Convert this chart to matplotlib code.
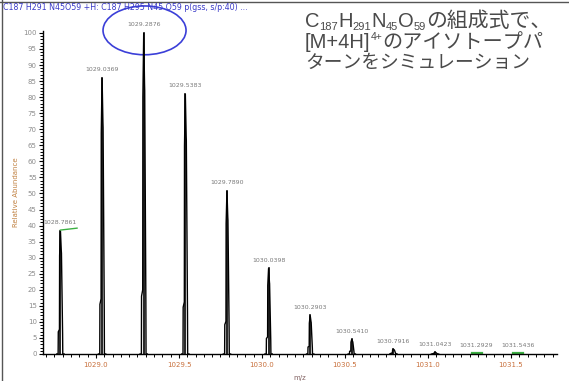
import numpy as np
import matplotlib.pyplot as plt
from matplotlib.patches import Ellipse
from matplotlib.lines import Line2D
from matplotlib.transforms import IdentityTransform
from matplotlib.ticker import MultipleLocator

# isotope peaks of [M+4H]4+ (centroid m/z, relative abundance)
peak_mz = [1028.7861, 1029.0369, 1029.2876, 1029.5383, 1029.7890, 1030.0398,
           1030.2903, 1030.5410, 1030.7916, 1031.0423, 1031.2929, 1031.5436]
peak_abund = [38.3, 86.0, 100.0, 81.0, 50.8, 26.7, 12.0, 4.6, 1.5, 0.5, 0.15, 0.05]
peak_labels = ["1028.7861", "1029.0369", "1029.2876", "1029.5383", "1029.7890",
               "1030.0398", "1030.2903", "1030.5410", "1030.7916", "1031.0423",
               "1031.2929", "1031.5436"]
marked_peaks = [10, 11]   # tiny peaks flagged in green

x_ticks = [1029.0, 1029.5, 1030.0, 1030.5, 1031.0, 1031.5]
y_ticks = list(range(0, 101, 5))

header = "C187 H291 N45O59 +H: C187 H295 N45 O59 p(gss, s/p:40) ..."

# profile shape used for every peak (m/z offset, fraction of height)
shape_dx = [-0.022, -0.014, -0.013, -0.006, -0.005, 0.0, 0.005, 0.006, 0.013, 0.014, 0.022]
shape_fr = [0.0, 0.0, 0.18, 0.2, 0.8, 1.0, 0.84, 0.82, 0.16, 0.0, 0.0]

W, H = 569, 381
fig = plt.figure(figsize=(W / 100, H / 100), dpi=100)
ax = fig.add_axes([43 / W, 27 / H, (557 - 43) / W, (354 - 31) / H])

for mz, ab in zip(peak_mz, peak_abund):
    xs = [mz + d for d in shape_dx]
    ys = [ab * f for f in shape_fr]
    ax.plot(xs, ys, color="black", lw=1.0, solid_joinstyle="miter")
    ax.plot([mz, mz], [0, ab], color="black", lw=1.2)

for lab, mz, ab in zip(peak_labels, peak_mz, peak_abund):
    ax.annotate(lab, (mz, ab), xytext=(0, 4), textcoords="offset points",
                ha="center", va="bottom", fontsize=4.5, color="#7a7a7a")

# green flags: underline on the first label and baseline marks on tiny peaks
ax.plot([peak_mz[0], peak_mz[0] + 0.1], [peak_abund[0] + 0.3, peak_abund[0] + 0.9],
        color="#3cb043", lw=1.0, clip_on=False)
for i in marked_peaks:
    ax.plot([peak_mz[i] - 0.03, peak_mz[i] + 0.03], [0.35, 0.35],
            color="#3cb043", lw=1.6, clip_on=False)

# blue ellipse around the base peak label
top = int(np.argmax(peak_abund))
ax.add_patch(Ellipse((peak_mz[top] + 0.005, peak_abund[top] + 0.8), 0.5, 15.2,
                     fill=False, edgecolor="#3b3fd8", lw=1.2, clip_on=False))

ax.set_xlim(1028.681, 1031.777)
ax.set_ylim(0, 100.6)
ax.set_xticks(x_ticks)
ax.set_xticklabels([f"{v:.1f}" for v in x_ticks])
ax.set_yticks(y_ticks)
ax.xaxis.set_minor_locator(MultipleLocator(0.05))
ax.yaxis.set_minor_locator(MultipleLocator(1))
ax.tick_params(axis="x", which="major", length=3, width=0.8, labelsize=5,
               labelcolor="#c8703c", pad=3)
ax.tick_params(axis="x", which="minor", length=2, width=0.7)
ax.tick_params(axis="y", which="major", length=3, width=0.8, labelsize=5,
               labelcolor="#8c8c8c", pad=1.5)
ax.tick_params(axis="y", which="minor", length=2, width=0.7)
for s in ("top", "right"):
    ax.spines[s].set_visible(False)
for s in ("left", "bottom"):
    ax.spines[s].set_linewidth(1.0)
ax.set_xlabel("m/z", fontsize=5, color="#806060", labelpad=5)
ax.set_ylabel("Relative Abundance", fontsize=5, color="#c08040", labelpad=3)

fig.text(3 / W, 1 - 10 / H, header, fontsize=5.7, color="#3a3ac8", va="baseline")

# screenshot frame edges
fig.add_artist(Line2D([0, 1], [1 - 1.5 / H, 1 - 1.5 / H], color="#555555", lw=1.0))
fig.add_artist(Line2D([1.5 / W, 1.5 / W], [0, 1], color="#555555", lw=1.0))

# note in the top-right corner, built from pieces so the formula gets sub/superscripts
# kind: "n" latin, "j" japanese, "sub"/"sup" small latin
jp_font = ["Noto Sans CJK JP", "DejaVu Sans"]
lat_font = ["Liberation Sans", "DejaVu Sans"]
note_lines = [
    [("C", "n"), ("187", "sub"), ("H", "n"), ("291", "sub"), ("N", "n"), ("45", "sub"),
     ("O", "n"), ("59", "sub"), ("の組成式で、", "j")],
    [("[M+4H]", "n"), ("4+", "sup"), ("のアイソトープパ", "j")],
    [("ターンをシミュレーション", "j")],
]
baselines = [27, 48, 68]
jp_sizes = [15.0, 14.5, 13.5]
renderer = fig.canvas.get_renderer()
for line, base, jsize in zip(note_lines, baselines, jp_sizes):
    x = 305
    for txt, kind in line:
        if kind == "j":
            size, dy, fam = jsize, 0, jp_font
        elif kind == "n":
            size, dy, fam = 14.5, 0, lat_font
        elif kind == "sub":
            size, dy, fam = 8, -2.5, lat_font
        else:
            size, dy, fam = 7.5, 8, lat_font
        t = fig.text(x, H - base + dy, txt, transform=IdentityTransform(),
                     fontsize=size, family=fam, color="#4a4a4a",
                     ha="left", va="baseline")
        x += t.get_window_extent(renderer).width

fig.savefig("out.png", dpi=100)
